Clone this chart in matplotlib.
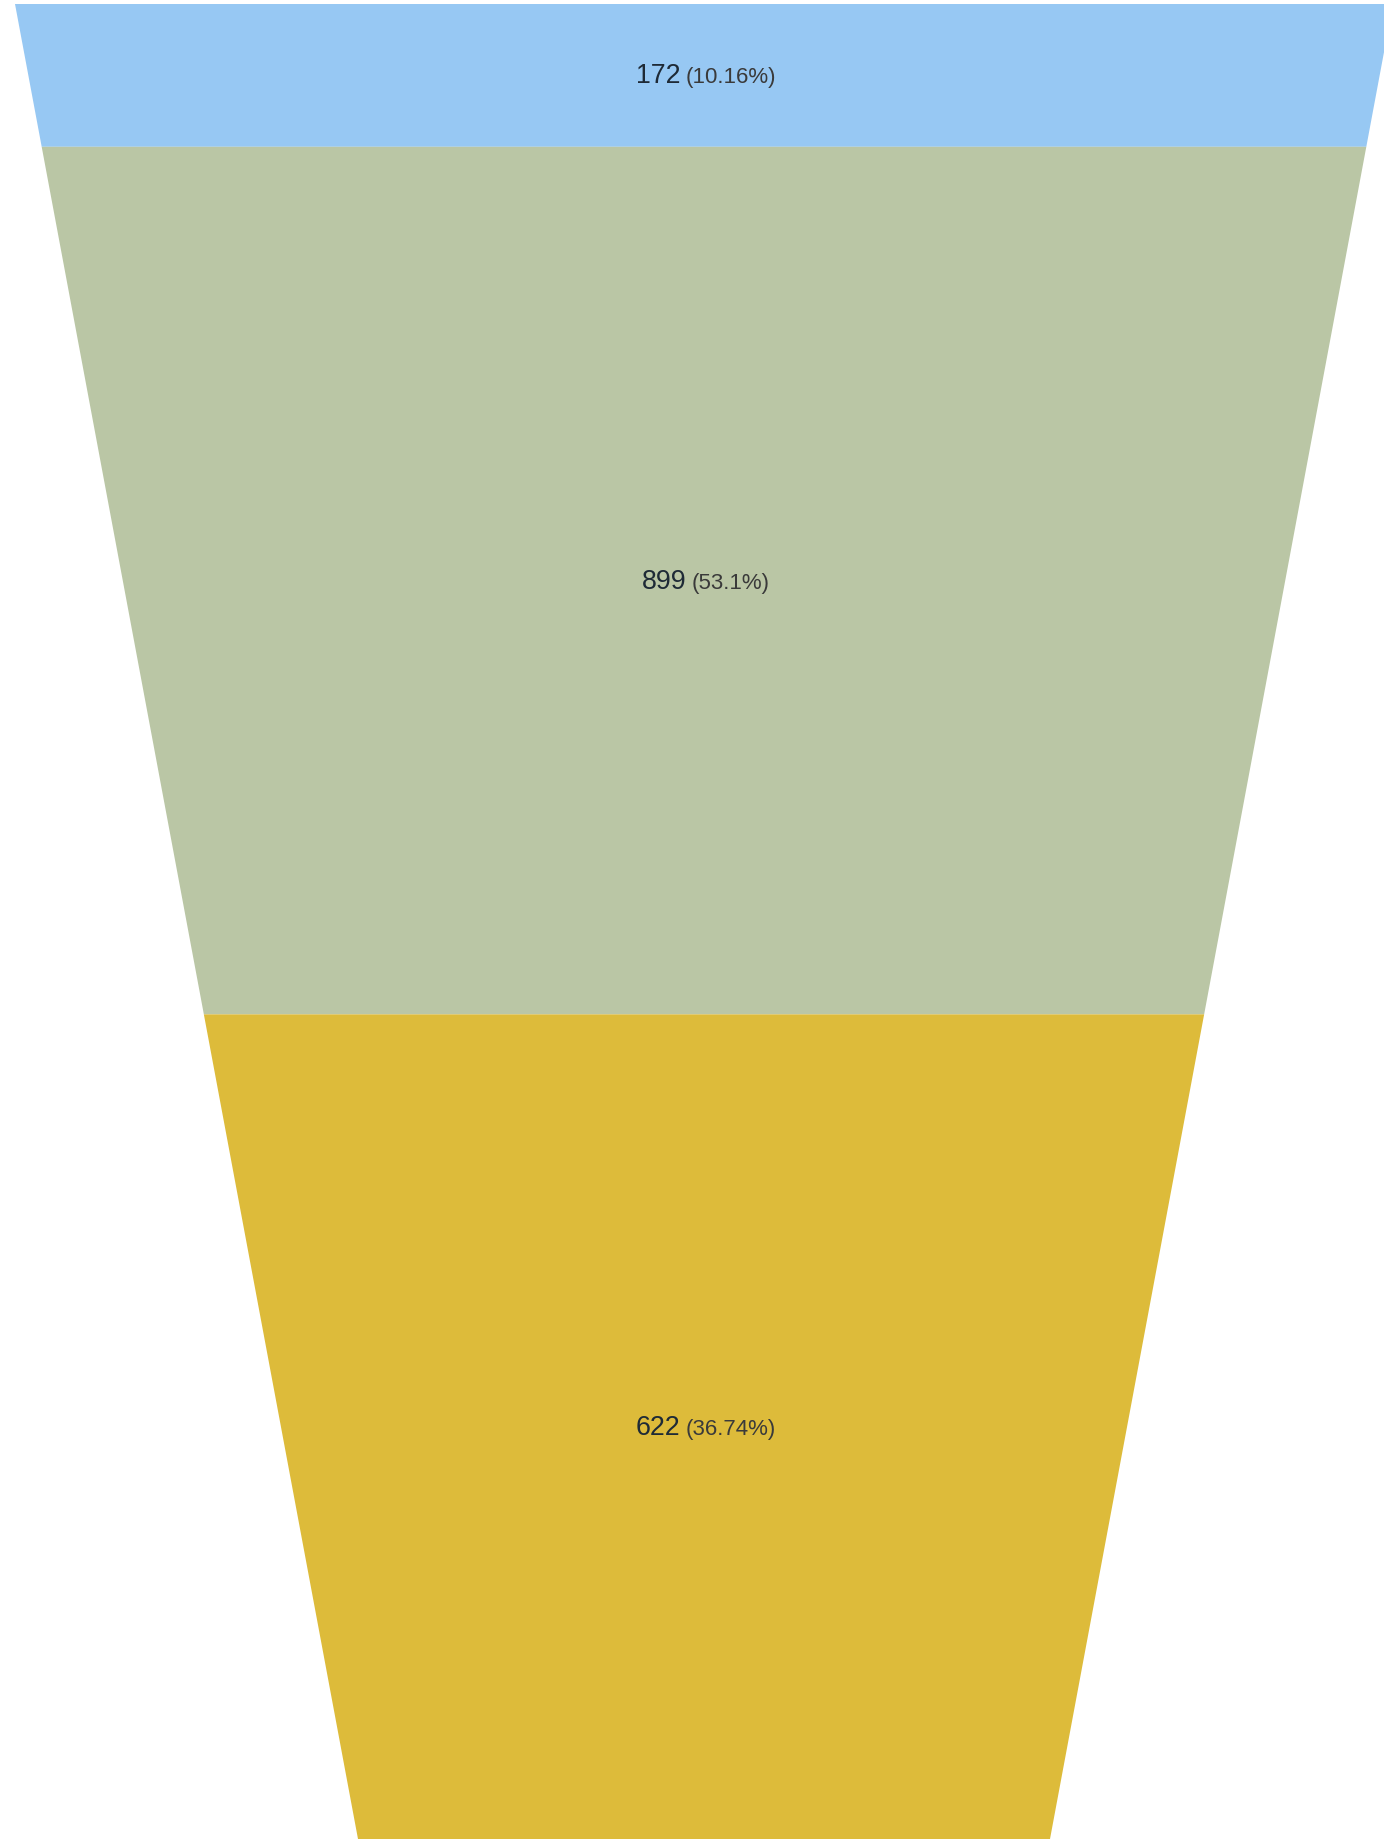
import numpy as np
import matplotlib.pyplot as plt
from matplotlib.offsetbox import TextArea, HPacker, AnnotationBbox

# Datos del embudo
valores = [172, 899, 622]
porcentajes = ["10.16%", "53.1%", "36.74%"]
colores = ["#97c8f3", "#bac6a5", "#ddbb3a"]

W, H = 1384, 1840
fig = plt.figure(figsize=(W / 100, H / 100), dpi=100)
ax = fig.add_axes([0, 0, 1, 1])
ax.set_xlim(0, W)
ax.set_ylim(H, 0)
ax.axis("off")

# Geometría del embudo (área de cada tramo proporcional al valor)
cx = 704
y_top, y_bot = 5, 1840
ancho_sup, ancho_inf = 1378, 692
alto = y_bot - y_top
k = (ancho_sup - ancho_inf) / alto


def ancho(y):
    return ancho_sup - k * (y - y_top)


total = sum(valores)
area_total = (ancho_sup + ancho_inf) / 2 * alto
cortes = [y_top]
acum = 0
for v in valores:
    acum += v
    a = area_total * acum / total
    # W0*t - k t^2 / 2 = a
    t = (ancho_sup - np.sqrt(ancho_sup ** 2 - 2 * k * a)) / k
    cortes.append(y_top + t)

for i, (v, p, c) in enumerate(zip(valores, porcentajes, colores)):
    y0, y1 = cortes[i], cortes[i + 1]
    xs = [cx - ancho(y0) / 2, cx + ancho(y0) / 2, cx + ancho(y1) / 2, cx - ancho(y1) / 2]
    ys = [y0, y0, y1, y1]
    ax.fill(xs, ys, color=c, lw=0)

    t1 = TextArea(str(v), textprops=dict(fontsize=19.3, color="#1e2a36", family="Liberation Sans"))
    t2 = TextArea(f"({p})", textprops=dict(fontsize=16, color="#3a3a3a", family="Liberation Sans"))
    caja = HPacker(children=[t1, t2], align="baseline", pad=0, sep=4)
    ab = AnnotationBbox(caja, (706, (y0 + y1) / 2), frameon=False, box_alignment=(0.5, 0.5))
    ax.add_artist(ab)

fig.savefig("out.png", dpi=100)
